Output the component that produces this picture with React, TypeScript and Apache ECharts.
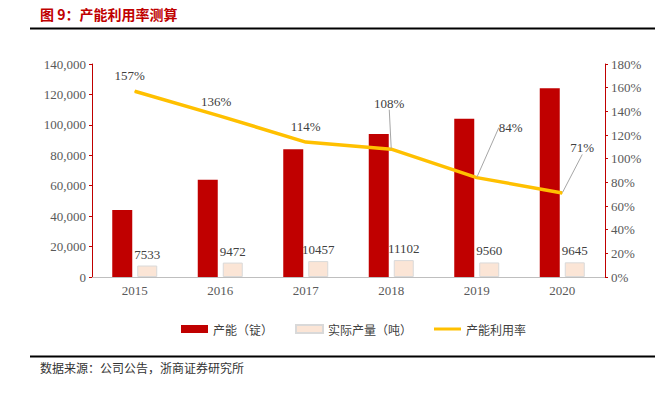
import React, { useEffect, useRef } from "react";
import * as echarts from "echarts";

const years = ["2015", "2016", "2017", "2018", "2019", "2020"];
const capacity = [44000, 64000, 84000, 94000, 104000, 124000];
const output = [7533, 9472, 10457, 11102, 9560, 9645];
const utilization = [157, 136, 114, 108, 84, 71];
const seriesNames = ["产能（锭）", "实际产量（吨）", "产能利用率"];
const labelOffsets = [
  [-5, -4],
  [-4, -3],
  [0, -4],
  [-2, -34],
  [34, -38],
  [20, -33],
];
const guided = [false, false, false, true, true, true];

const serif = "'Liberation Serif', 'Times New Roman', serif";
const cjk = "'Noto Sans CJK SC', sans-serif";

export default function App() {
  const ref = useRef<HTMLDivElement>(null);
  useEffect(() => {
    if (!ref.current) return;
    const chart = echarts.init(ref.current, null, { renderer: "svg" });
    chart.setOption({
      animation: false,
      backgroundColor: "#ffffff",
      graphic: [
        {
          type: "text",
          left: 40,
          top: 7,
          style: {
            text: "图 9：产能利用率测算",
            font: `bold 14px ${cjk}`,
            fill: "#C00000",
          },
        },
        {
          type: "line",
          shape: { x1: 30, y1: 28.5, x2: 655, y2: 28.5 },
          style: { stroke: "#000000", lineWidth: 2 },
        },
        {
          type: "line",
          shape: { x1: 30, y1: 356.5, x2: 655, y2: 356.5 },
          style: { stroke: "#000000", lineWidth: 2 },
        },
        {
          type: "text",
          left: 40,
          top: 361,
          style: {
            text: "数据来源：公司公告，浙商证券研究所",
            font: `12px ${cjk}`,
            fill: "#333333",
          },
        },
      ],
      grid: { left: 92, right: 52, top: 64, bottom: 117 },
      legend: {
        top: 318,
        left: 176,
        itemWidth: 27,
        itemHeight: 8,
        itemGap: 22,
        textStyle: { fontFamily: cjk, fontSize: 12, color: "#404040" },
        data: [
          { name: seriesNames[0], icon: "rect" },
          { name: seriesNames[1], icon: "rect" },
          { name: seriesNames[2], icon: "path://M0,0 H27 V3 H0 Z" },
        ],
      },
      xAxis: {
        type: "category",
        data: years,
        axisLine: { lineStyle: { color: "#BFBFBF", width: 1 } },
        axisTick: { show: false },
        axisLabel: {
          fontFamily: serif,
          fontSize: 13,
          color: "#595959",
          margin: 7,
        },
      },
      yAxis: [
        {
          type: "value",
          min: 0,
          max: 140000,
          interval: 20000,
          splitLine: { show: false },
          axisLine: { show: true, lineStyle: { color: "#C00000" } },
          axisTick: { show: true, length: 3, lineStyle: { color: "#C00000" } },
          axisLabel: {
            fontFamily: serif,
            fontSize: 13,
            color: "#595959",
            margin: 6,
            formatter: (v: number) => v.toLocaleString("en-US"),
          },
        },
        {
          type: "value",
          min: 0,
          max: 180,
          interval: 20,
          position: "right",
          splitLine: { show: false },
          axisLine: { show: true, lineStyle: { color: "#C00000" } },
          axisTick: { show: true, length: 3, lineStyle: { color: "#C00000" } },
          axisLabel: {
            fontFamily: serif,
            fontSize: 13,
            color: "#595959",
            margin: 6,
            formatter: "{value}%",
          },
        },
      ],
      series: [
        {
          name: seriesNames[0],
          type: "bar",
          data: capacity,
          barWidth: 20,
          barGap: "25%",
          itemStyle: { color: "#C00000" },
        },
        {
          name: seriesNames[1],
          type: "bar",
          data: output,
          barWidth: 20,
          itemStyle: { color: "#FBE5D6", borderColor: "#D9D9D9", borderWidth: 1 },
          label: {
            show: true,
            position: "top",
            distance: 5,
            formatter: "{c}",
            fontFamily: serif,
            fontSize: 13,
            color: "#404040",
          },
        },
        {
          name: seriesNames[2],
          type: "line",
          yAxisIndex: 1,
          data: utilization.map((v, i) => ({
            value: v,
            labelLine: { show: guided[i] },
          })),
          symbol: "circle",
          symbolSize: 1,
          showSymbol: true,
          itemStyle: { color: "#FFC000" },
          lineStyle: { color: "#FFC000", width: 3.5 },
          label: {
            show: true,
            position: "top",
            distance: 5,
            formatter: "{c}%",
            fontFamily: serif,
            fontSize: 13,
            color: "#404040",
          },
          labelLine: {
            show: false,
            lineStyle: { color: "#A6A6A6", width: 1 },
          },
          labelLayout: (p: any) => ({
            dx: labelOffsets[p.dataIndex][0],
            dy: labelOffsets[p.dataIndex][1],
          }),
          z: 5,
        },
      ],
    });
    return () => chart.dispose();
  }, []);
  return (
    <div
      ref={ref}
      style={{ position: "fixed", left: 0, top: 0, width: 657, height: 394 }}
    />
  );
}
